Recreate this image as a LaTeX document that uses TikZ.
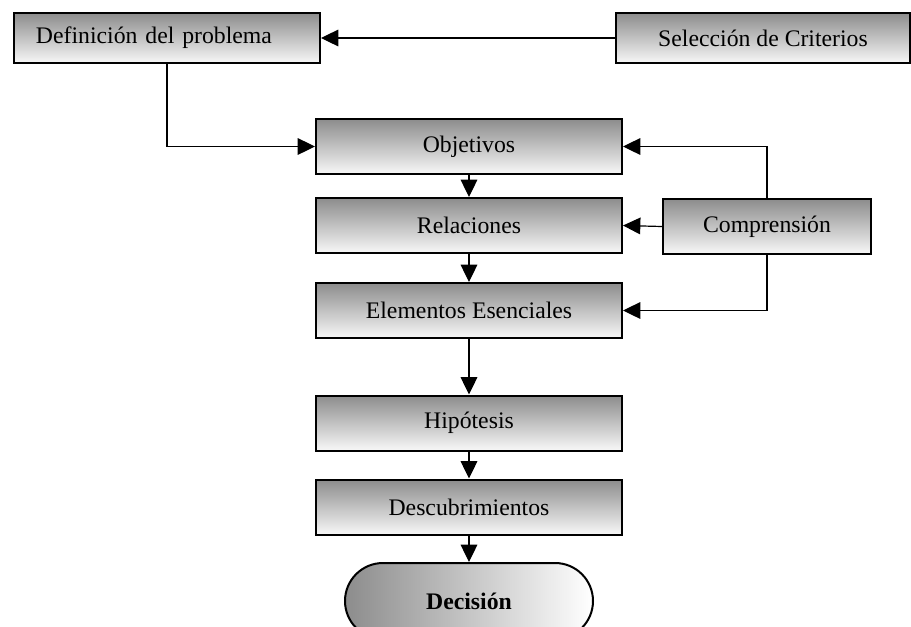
\documentclass[tikz,border=0pt]{standalone}
\usepackage{fontspec}
\setmainfont{Liberation Serif}
\usetikzlibrary{arrows.meta,shapes.misc}

\tikzset{every picture/.style={line width=0.75pt}}
\tikzset{
  box/.style={draw, line width=1.5pt, rectangle, top color=black!45, bottom color=black!3,
    minimum width=229.5pt, minimum height=41.25pt, inner sep=0.75pt,
    font=\fontsize{17.8}{21}\selectfont},
  final/.style={draw, line width=1.5pt, rounded rectangle, left color=black!45, right color=white,
    minimum width=187.5pt, minimum height=57pt, inner sep=0.75pt,
    font=\fontsize{17.8}{21}\selectfont\bfseries},
  arr/.style={-{Triangle[length=13pt,width=12.5pt]}, line width=0.9pt}
}

\begin{document}
\begin{tikzpicture}[x=0.75pt,y=0.75pt,yscale=-1,xscale=1]
\clip (0,0) rectangle (911,626); %set diagram to 911 x 626

% Top row
\node [box, minimum height=37.5pt, inner xsep=16.5pt, text width=196.5pt, align=left] (def) at (167,38) {Definición del problema};
\node [box, minimum width=220.5pt, minimum height=37.5pt] (sel) at (763,38) {Selección de Criterios};

% Main column
\node [box] (obj) at (469,146.5) {Objetivos};
\node [box] (rel) at (469,225.5) {Relaciones};
\node [box] (ele) at (469,310.5) {Elementos Esenciales};
\node [box] (hip) at (469,423) {Hipótesis};
\node [box] (des) at (469,507) {Descubrimientos};
\node [final] (dec) at (469,601) {Decisión};

% Side box
\node [box, minimum width=156pt] (comp) at (767,226.5) {Comprensión};

%Straight Lines
\draw [arr] (sel.west) -- (def.east);
\draw [arr] (def.south) |- (obj.west);
\draw [arr] (obj.south) -- (rel.north);
\draw [arr] (rel.south) -- (ele.north);
\draw [arr] (ele.south) -- (hip.north);
\draw [arr] (hip.south) -- (des.north);
\draw [arr] (des.south) -- (dec.north);
%Lines from Comprension
\draw [arr] (comp.north) |- (obj.east);
\draw [arr] (comp.west) -- (rel.east);
\draw [arr] (comp.south) |- (ele.east);

\end{tikzpicture}
\end{document}
